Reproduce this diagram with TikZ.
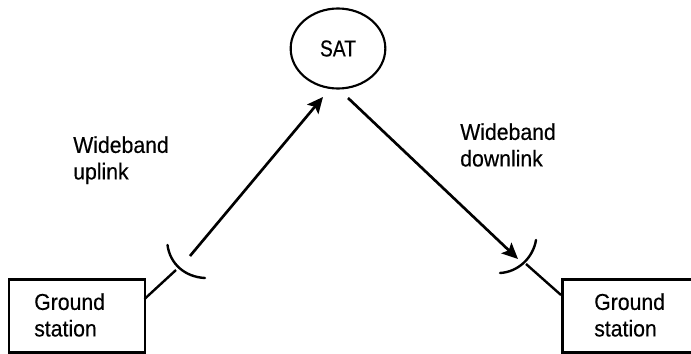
\documentclass[tikz,border=0pt]{standalone}
\usepackage{fontspec}
\setmainfont[FakeStretch=0.925,FakeBold=0.4]{Liberation Sans}
\newfontfamily\satfont[FakeStretch=0.84,FakeBold=0.4]{Liberation Sans}
\usetikzlibrary{arrows.meta,shapes.geometric}
\tikzset{
  lbl/.style={align=left,anchor=north west,inner sep=0pt,font=\fontsize{17.2}{19.9}\selectfont},
  gbox/.style={draw,line width=1.9pt,minimum width=102pt,minimum height=55pt,inner sep=0pt,anchor=north west},
  sat/.style={draw,ellipse,line width=1.6pt,minimum width=71pt,minimum height=60pt,inner sep=0pt},
  link/.style={line width=2pt,-{Stealth[length=12pt,width=11pt,inset=2.5pt]},shorten >=0pt},
  feed/.style={line width=1.8pt},
  dish/.style={line width=1.8pt,line cap=round}
}
\begin{document}
\begin{tikzpicture}[x=0.75pt,y=-0.75pt]
\useasboundingbox (0,0) rectangle (691,353);
\node[sat] (s) at (338,48.5) {\satfont\fontsize{17.2}{19}\selectfont SAT};
\node[gbox] (g1) at (7.5,278) {};
\node[gbox,minimum width=100pt] (g2) at (561,278) {};
\node[lbl] (t1) at (34,293) {Ground\\station};
\node[lbl] (t2) at (594,293) {Ground\\station};
\node[lbl] (u) at (73,136) {Wideband\\uplink};
\node[lbl] (d) at (460,123) {Wideband\\downlink};
\coordinate (a1) at (190,256);
\coordinate (a2) at (323,97);
\coordinate (b1) at (348,98);
\coordinate (b2) at (518,259);
\coordinate (f1) at (144.5,299);
\coordinate (f2) at (176,270);
\coordinate (f3) at (526,264);
\coordinate (f4) at (561,295);
\coordinate (d1) at (167.5,245);
\coordinate (d2) at (205,278);
\coordinate (d3) at (536,240);
\coordinate (d4) at (500,273);
\draw[link] (a1) -- (a2);
\draw[link] (b1) -- (b2);
\draw[feed] (f1) -- (f2);
\draw[feed] (f3) -- (f4);
\draw[dish] (d1) .. controls (170,264) and (185,277) .. (d2);
\draw[dish] (d3) .. controls (533,258) and (518,272) .. (d4);
\end{tikzpicture}
\end{document}
